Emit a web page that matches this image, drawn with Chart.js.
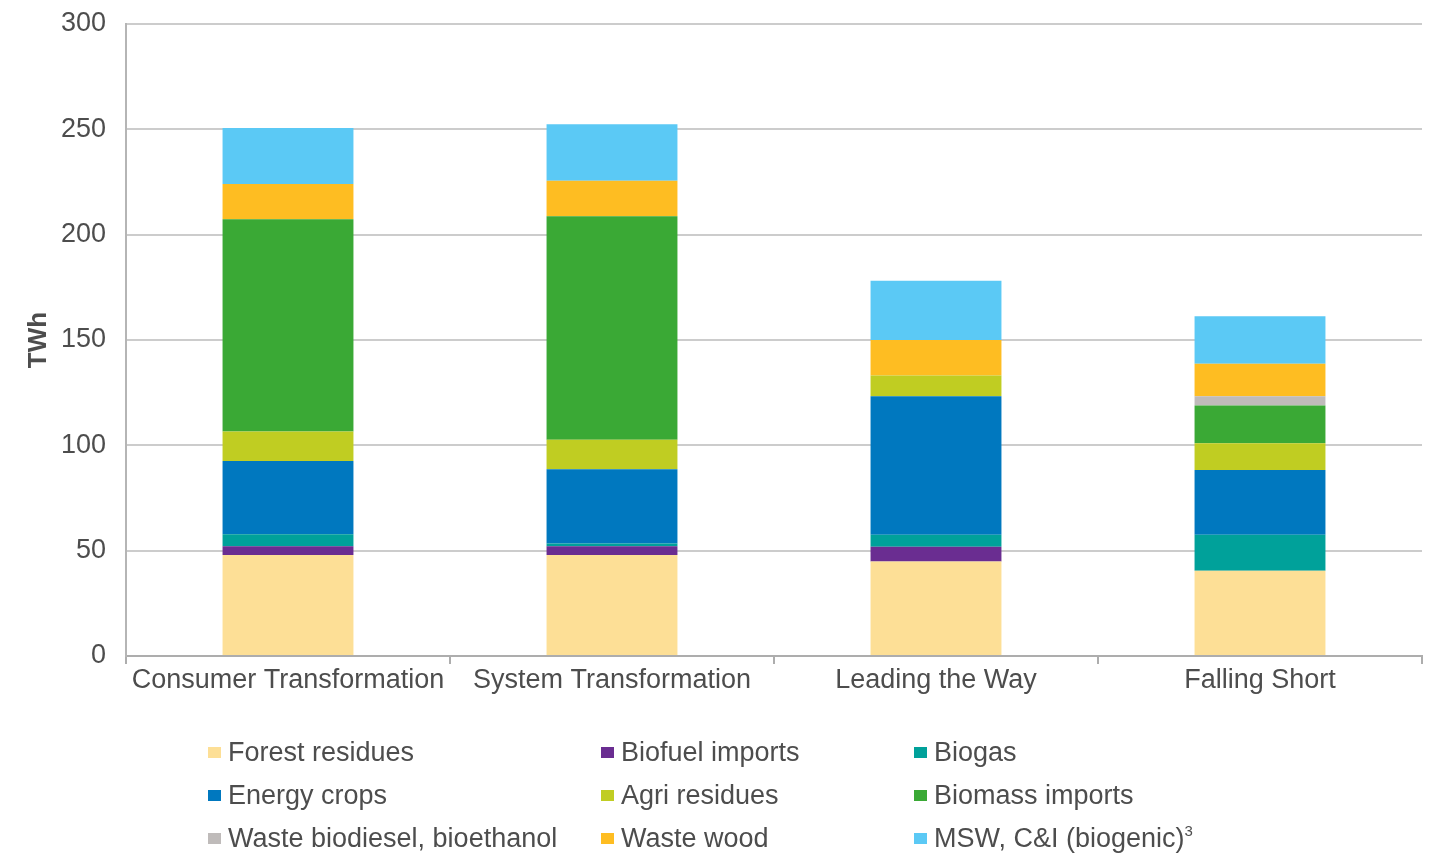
<!DOCTYPE html>
<html>
<head>
<meta charset="utf-8">
<script src="https://cdn.jsdelivr.net/npm/chart.js@4/dist/chart.umd.min.js"></script>
<style>
  html, body { margin: 0; padding: 0; background: #fff; }
  #wrap { position: relative; width: 1445px; height: 855px; }
  #legend { position: absolute; left: 0; top: 731px; width: 1445px; font-family: "Liberation Sans", Arial, sans-serif; font-size: 27px; color: #4d4d4d; }
  .item { position: absolute; height: 43px; line-height: 43px; padding-left: 20px; white-space: nowrap; }
  .box { position: absolute; left: 0; top: 16px; width: 13px; height: 11px; }
  sup { font-size: 15px; line-height: 0; vertical-align: 11px; }
</style>
</head>
<body>
<div id="wrap">
  <canvas id="chart" width="1445" height="855"></canvas>
  <div id="legend"></div>
</div>
<script>
// scenarios
const categories = ["Consumer Transformation", "System Transformation", "Leading the Way", "Falling Short"]

// TWh per source, stacked bottom to top
const forestResidues = [48.0, 48.0, 44.8, 40.5]
const biofuelImports = [4.1, 4.1, 7.1, 0]
const biogas = [5.7, 1.3, 5.6, 17.0]
const energyCrops = [34.8, 35.2, 65.8, 30.8]
const agriResidues = [14.0, 14.0, 9.9, 12.7]
const biomassImports = [100.7, 106.1, 0, 17.9]
const wasteBiodiesel = [0, 0, 0, 4.4]
const wasteWood = [16.8, 16.9, 16.8, 15.4]
const msw = [26.5, 26.8, 28.1, 22.6]

const yTicks = [0, 50, 100, 150, 200, 250, 300]

const series = [
  { label: "Forest residues", data: forestResidues, color: "#fddf96" },
  { label: "Biofuel imports", data: biofuelImports, color: "#6a2d91" },
  { label: "Biogas", data: biogas, color: "#00a19a" },
  { label: "Energy crops", data: energyCrops, color: "#0078bf" },
  { label: "Agri residues", data: agriResidues, color: "#c0cd22" },
  { label: "Biomass imports", data: biomassImports, color: "#3aa935" },
  { label: "Waste biodiesel, bioethanol", data: wasteBiodiesel, color: "#bfbbba" },
  { label: "Waste wood", data: wasteWood, color: "#febd22" },
  { label: "MSW, C&I (biogenic)", data: msw, color: "#5bc9f5", sup: "3" },
]

const textColor = "#4d4d4d"
const font = "'Liberation Sans', Arial, sans-serif"

const chart = new Chart(document.getElementById("chart"), {
  type: "bar",
  data: {
    labels: categories,
    datasets: series.map((s) => ({
      label: s.label,
      data: s.data,
      backgroundColor: s.color,
      borderWidth: 0,
      categoryPercentage: 1,
      barPercentage: 0.404,
    })),
  },
  options: {
    responsive: false,
    animation: false,
    layout: { padding: { left: 0, right: 23, top: 24, bottom: 149 } },
    plugins: {
      legend: { display: false },
      tooltip: { enabled: false },
    },
    scales: {
      x: {
        stacked: true,
        afterFit: (s) => { s.height = 50; s.paddingLeft = 0; s.paddingRight = 0 },
        grid: { drawOnChartArea: false, drawTicks: true, tickLength: 8, color: "#adadad", lineWidth: 2, offset: true },
        border: { color: "#adadad", width: 2 },
        ticks: { color: textColor, font: { family: font, size: 27 }, padding: 0, maxRotation: 0 },
      },
      y: {
        stacked: true,
        min: 0,
        max: 300,
        afterFit: (s) => { s.width = 126; s.paddingTop = 0; s.paddingBottom = 0 },
        afterBuildTicks: (s) => { s.ticks = yTicks.map((v) => ({ value: v })) },
        grid: { color: "#cccccc", lineWidth: 2, drawTicks: false },
        border: { color: "#b5b5b5", width: 2 },
        ticks: { color: textColor, font: { family: font, size: 27 }, padding: 20 },
        title: {
          display: true,
          text: "TWh",
          color: textColor,
          font: { family: font, size: 26, weight: "bold" },
          padding: { top: 23, bottom: 0 },
        },
      },
    },
  },
})

// legend in three columns, built from the chart's datasets
const colX = [208, 601, 914]
const rowH = 43
const legend = document.getElementById("legend")
chart.data.datasets.forEach((ds, i) => {
  const item = document.createElement("div")
  item.className = "item"
  item.style.left = colX[i % 3] + "px"
  item.style.top = Math.floor(i / 3) * rowH + "px"
  const box = document.createElement("span")
  box.className = "box"
  box.style.background = ds.backgroundColor
  item.appendChild(box)
  item.appendChild(document.createTextNode(ds.label))
  if (series[i].sup) {
    const sup = document.createElement("sup")
    sup.textContent = series[i].sup
    item.appendChild(sup)
  }
  legend.appendChild(item)
})
</script>
</body>
</html>
